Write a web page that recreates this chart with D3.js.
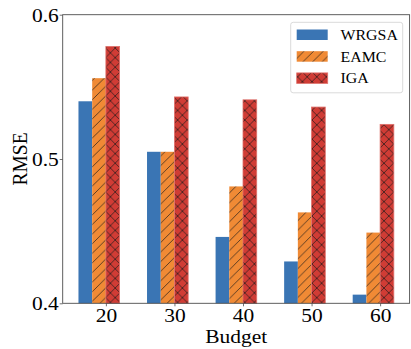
<!DOCTYPE html>
<html>
<head>
<meta charset="utf-8">
<script src="https://cdn.jsdelivr.net/npm/d3@7"></script>
<style>
  html, body { margin: 0; padding: 0; background: #fff; }
  svg { display: block; }
  text { font-family: "Liberation Serif", "Times New Roman", serif; fill: #000; }
</style>
</head>
<body>
<svg id="chart" width="411" height="349"></svg>
<script>
// Budget levels on the x axis
const budgets = [20, 30, 40, 50, 60];

// RMSE per method at each budget
const wrgsa = [0.540, 0.505, 0.446, 0.429, 0.406];
const eamc  = [0.556, 0.505, 0.481, 0.463, 0.449];
const iga   = [0.578, 0.543, 0.541, 0.536, 0.524];

const methodNames = ["WRGSA", "EAMC", "IGA"];
const yTicks = [0.4, 0.5, 0.6];

const seriesList = [
  { name: methodNames[0], values: wrgsa, color: "#3a75b4", hatch: null,  offset: -2 },
  { name: methodNames[1], values: eamc,  color: "#f08a35", hatch: "/",  offset: -1 },
  { name: methodNames[2], values: iga,   color: "#d03c35", hatch: "x",  offset: 0 }
];

const svg = d3.select("#chart");
const plot = { left: 62.7, right: 409.6, top: 14.7, bottom: 303.3 };
const barW = 0.2;
const stretch = 1.1;      // text is set slightly wide
const axisFont = 19.5;

// index-based x scale, padded like a default bar layout
const x = d3.scaleLinear()
  .domain([-0.63, budgets.length - 1 + 0.43])
  .range([plot.left, plot.right]);
const y = d3.scaleLinear().domain([0.4, 0.6]).range([plot.bottom, plot.top]);

// hatch patterns
const defs = svg.append("defs");
const period = 9.6;
function makePattern(id, color, kind) {
  const p = defs.append("pattern")
    .attr("id", id)
    .attr("patternUnits", "userSpaceOnUse")
    .attr("width", period).attr("height", period);
  p.append("rect").attr("width", period).attr("height", period).attr("fill", color);
  const s = period;
  let d = `M${-1},${1} L${1},${-1} M0,${s} L${s},0 M${s - 1},${s + 1} L${s + 1},${s - 1}`;
  if (kind === "x") {
    d += ` M${-1},${s - 1} L${1},${s + 1} M0,0 L${s},${s} M${s - 1},${-1} L${s + 1},${1}`;
  }
  p.append("path").attr("d", d)
    .attr("stroke", "#1a1a1a").attr("stroke-width", 0.8)
    .attr("stroke-opacity", 0.85).attr("fill", "none");
}
seriesList.forEach((s, i) => {
  if (s.hatch) makePattern("hatch" + i, s.color, s.hatch);
});
const fillOf = (s, i) => s.hatch ? `url(#hatch${i})` : s.color;

// bars
seriesList.forEach((s, i) => {
  svg.append("g").selectAll("rect")
    .data(s.values)
    .join("rect")
    .attr("x", (v, j) => x(j + s.offset * barW))
    .attr("width", x(barW) - x(0))
    .attr("y", v => y(v))
    .attr("height", v => y(0.4) - y(v))
    .attr("fill", fillOf(s, i))
    .attr("stroke", s.hatch === "x" ? "#e0716b" : "none")
    .attr("stroke-width", s.hatch === "x" ? 0.8 : 0);
});

// frame
svg.append("rect")
  .attr("x", plot.left).attr("y", plot.top)
  .attr("width", plot.right - plot.left).attr("height", plot.bottom - plot.top)
  .attr("fill", "none").attr("stroke", "#4d4d4d").attr("stroke-width", 0.9);

// axes
const xAxis = d3.axisBottom(x)
  .tickValues(budgets.map((b, i) => i))
  .tickFormat(i => budgets[i])
  .tickSize(3).tickPadding(1.5);
const gx = svg.append("g").attr("transform", `translate(0,${plot.bottom})`).call(xAxis);
const yAxis = d3.axisLeft(y).tickValues(yTicks).tickFormat(d3.format(".1f"))
  .tickSize(3).tickPadding(0.6);
const gy = svg.append("g").attr("transform", `translate(${plot.left},0)`).call(yAxis);
[gx, gy].forEach(g => {
  g.select(".domain").remove();
  g.selectAll(".tick line").attr("stroke", "#4d4d4d").attr("stroke-width", 0.8);
  g.selectAll(".tick text")
    .style("font-family", "'Liberation Serif', 'Times New Roman', serif")
    .style("font-size", axisFont + "px").attr("fill", "#000")
    .attr("transform", `scale(${stretch},1)`);
});
gy.selectAll(".tick text").attr("dy", "0.34em");

// axis titles
svg.append("text")
  .attr("transform", `translate(${(plot.left + plot.right) / 2},343.3) scale(${stretch},1)`)
  .attr("text-anchor", "middle").style("font-size", axisFont + "px")
  .text("Budget");
svg.append("text")
  .attr("transform", `translate(26.5,${(plot.top + plot.bottom) / 2}) scale(${stretch},1) rotate(-90)`)
  .attr("text-anchor", "middle").style("font-size", axisFont + "px")
  .text("RMSE");

// legend
const legend = svg.append("g");
legend.append("rect")
  .attr("x", 290.7).attr("y", 22.3).attr("width", 112).attr("height", 70.5)
  .attr("rx", 2.5).attr("fill", "#fff").attr("fill-opacity", 0.85)
  .attr("stroke", "#d6d6d6").attr("stroke-width", 0.9);
seriesList.forEach((s, i) => {
  const top = 29.5 + i * 21.7;
  legend.append("rect")
    .attr("x", 296.7).attr("y", top).attr("width", 31).attr("height", 10.5)
    .attr("fill", fillOf(s, i))
    .attr("stroke", s.hatch === "x" ? "#e0716b" : "none")
    .attr("stroke-width", 0.8);
  legend.append("text")
    .attr("transform", `translate(340.5,${top + 10.4}) scale(1.06,1)`)
    .style("font-size", "15px")
    .text(s.name);
});
</script>
</body>
</html>
